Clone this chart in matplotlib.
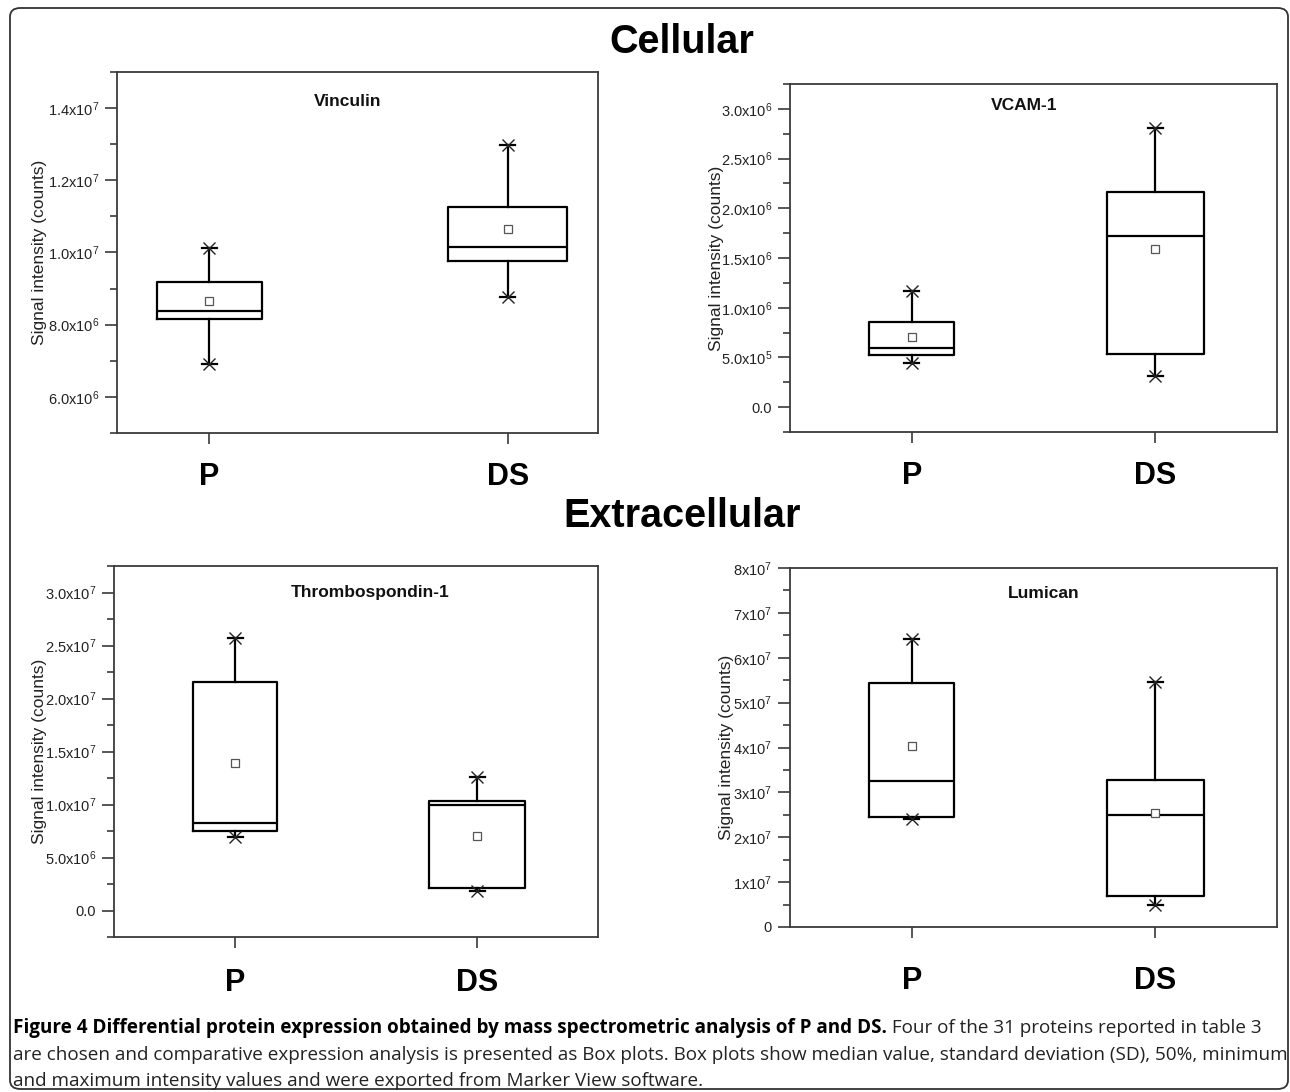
import matplotlib
matplotlib.use("Agg")
import matplotlib.pyplot as plt
from matplotlib.patches import FancyBboxPatch
from matplotlib.ticker import MultipleLocator

plt.rcParams['font.family'] = ['Liberation Sans', 'DejaVu Sans']
plt.rcParams['mathtext.fontset'] = 'custom'
plt.rcParams['mathtext.rm'] = 'Liberation Sans'
plt.rcParams['mathtext.it'] = 'Liberation Sans:italic'
plt.rcParams['mathtext.bf'] = 'Liberation Sans:bold'

# ---------------- data ----------------
groups = ['P', 'DS']

vinc_min = [6.90e6, 8.77e6]
vinc_q1 = [8.16e6, 9.77e6]
vinc_med = [8.39e6, 1.016e7]
vinc_q3 = [9.17e6, 1.127e7]
vinc_max = [1.012e7, 1.298e7]
vinc_mean = [8.65e6, 1.064e7]
vinc_ticks = [6.0e6, 8.0e6, 1.0e7, 1.2e7, 1.4e7]
vinc_ticklabels = [r'6.0x10$^{\mathregular{6}}$', r'8.0x10$^{\mathregular{6}}$',
                   r'1.0x10$^{\mathregular{7}}$', r'1.2x10$^{\mathregular{7}}$',
                   r'1.4x10$^{\mathregular{7}}$']

vcam_min = [4.45e5, 3.15e5]
vcam_q1 = [5.26e5, 5.36e5]
vcam_med = [5.96e5, 1.726e6]
vcam_q3 = [8.53e5, 2.164e6]
vcam_max = [1.164e6, 2.809e6]
vcam_mean = [7.09e5, 1.595e6]
vcam_ticks = [0.0, 5.0e5, 1.0e6, 1.5e6, 2.0e6, 2.5e6, 3.0e6]
vcam_ticklabels = ['0.0', r'5.0x10$^{\mathregular{5}}$', r'1.0x10$^{\mathregular{6}}$',
                   r'1.5x10$^{\mathregular{6}}$', r'2.0x10$^{\mathregular{6}}$',
                   r'2.5x10$^{\mathregular{6}}$', r'3.0x10$^{\mathregular{6}}$']

thbs_min = [6.95e6, 1.80e6]
thbs_q1 = [7.48e6, 2.11e6]
thbs_med = [8.21e6, 9.95e6]
thbs_q3 = [2.153e7, 1.036e7]
thbs_max = [2.567e7, 1.263e7]
thbs_mean = [1.39e7, 7.04e6]
thbs_ticks = [0.0, 5.0e6, 1.0e7, 1.5e7, 2.0e7, 2.5e7, 3.0e7]
thbs_ticklabels = ['0.0', r'5.0x10$^{\mathregular{6}}$', r'1.0x10$^{\mathregular{7}}$',
                   r'1.5x10$^{\mathregular{7}}$', r'2.0x10$^{\mathregular{7}}$',
                   r'2.5x10$^{\mathregular{7}}$', r'3.0x10$^{\mathregular{7}}$']

lum_min = [2.40e7, 4.8e6]
lum_q1 = [2.45e7, 6.9e6]
lum_med = [3.26e7, 2.50e7]
lum_q3 = [5.44e7, 3.28e7]
lum_max = [6.41e7, 5.45e7]
lum_mean = [4.03e7, 2.54e7]
lum_ticks = [0, 1e7, 2e7, 3e7, 4e7, 5e7, 6e7, 7e7, 8e7]
lum_ticklabels = ['0'] + [r'%dx10$^{\mathregular{7}}$' % k for k in range(1, 9)]

# ---------------- layout ----------------
W, H = 1290, 1092
fig = plt.figure(figsize=(W / 100, H / 100), dpi=100)

def add_ax(x0, y0, x1, y1):
    return fig.add_axes([x0 / W, 1 - y1 / H, (x1 - x0) / W, (y1 - y0) / H])

panels = [
    dict(box=(117, 72, 598, 433), title='Vinculin', tx=0.48, ty=0.918,
         mn=vinc_min, q1=vinc_q1, md=vinc_med, q3=vinc_q3, mx=vinc_max, mean=vinc_mean,
         ticks=vinc_ticks, labels=vinc_ticklabels, ylim=(5.0e6, 1.5e7), minor=1.0e6,
         xlim=(0.69, 2.303), ylab_x=40, xpad=13),
    dict(box=(790, 84, 1277, 432), title='VCAM-1', tx=0.48, ty=0.937,
         mn=vcam_min, q1=vcam_q1, md=vcam_med, q3=vcam_q3, mx=vcam_max, mean=vcam_mean,
         ticks=vcam_ticks, labels=vcam_ticklabels, ylim=(-2.5e5, 3.25e6), minor=2.5e5,
         xlim=(0.5, 2.5), ylab_x=716, xpad=13),
    dict(box=(114, 566, 598, 937), title='Thrombospondin-1', tx=0.53, ty=0.929,
         mn=thbs_min, q1=thbs_q1, md=thbs_med, q3=thbs_q3, mx=thbs_max, mean=thbs_mean,
         ticks=thbs_ticks, labels=thbs_ticklabels, ylim=(-2.5e6, 3.25e7), minor=2.5e6,
         xlim=(0.5, 2.5), ylab_x=40, xpad=14.5),
    dict(box=(790, 568, 1277, 927), title='Lumican', tx=0.52, ty=0.93,
         mn=lum_min, q1=lum_q1, md=lum_med, q3=lum_q3, mx=lum_max, mean=lum_mean,
         ticks=lum_ticks, labels=lum_ticklabels, ylim=(0, 8e7), minor=5e6,
         xlim=(0.5, 2.5), ylab_x=726, xpad=20),
]

positions = [1, 2]
box_widths = [0.35, 0.40]
spine_col = '#3a3a3a'

for p in panels:
    x0, y0, x1, y1 = p['box']
    ax = add_ax(x0, y0, x1, y1)
    stats = []
    for i, g in enumerate(groups):
        stats.append(dict(label=g, med=p['md'][i], q1=p['q1'][i], q3=p['q3'][i],
                          whislo=p['mn'][i], whishi=p['mx'][i], mean=p['mean'][i],
                          fliers=[]))
    xr = p['xlim'][1] - p['xlim'][0]
    capw = 15 / (x1 - x0) * xr
    ax.bxp(stats, positions=positions, widths=box_widths, showmeans=True,
           showfliers=False, capwidths=[capw, capw], patch_artist=False,
           boxprops=dict(color='black', linewidth=1.6),
           medianprops=dict(color='black', linewidth=1.6),
           whiskerprops=dict(color='black', linewidth=1.6),
           capprops=dict(color='black', linewidth=1.6),
           meanprops=dict(marker='s', markerfacecolor='white',
                          markeredgecolor='#555555', markersize=5.5,
                          markeredgewidth=0.9))
    ax.plot(positions, p['mx'], ls='none', marker='x', ms=8, mew=1.0, color='#222222')
    ax.plot(positions, p['mn'], ls='none', marker='x', ms=8, mew=1.0, color='#222222')

    ax.set_xlim(*p['xlim'])
    ax.set_ylim(*p['ylim'])
    ax.set_yticks(p['ticks'])
    ax.set_yticklabels(p['labels'], fontsize=10.5)
    ax.yaxis.set_minor_locator(MultipleLocator(p['minor']))
    ax.set_xticks(positions)
    ax.set_xticklabels(groups, fontsize=22, fontweight='bold')
    ax.tick_params(axis='x', direction='out', length=8, width=1.2, pad=p['xpad'],
                   colors=spine_col, labelcolor='black')
    ax.tick_params(axis='y', which='major', direction='out', length=9, width=1.2,
                   colors=spine_col, labelcolor='#222222', pad=4)
    ax.tick_params(axis='y', which='minor', direction='out', length=5, width=1.2,
                   colors=spine_col)
    for s in ax.spines.values():
        s.set_color(spine_col)
        s.set_linewidth(1.3)
    ax.text(p['tx'], p['ty'], p['title'], transform=ax.transAxes, ha='center',
            va='center', fontsize=12.5, fontweight='bold', color='#111111')
    yc = (y0 + y1) / 2
    fig.text(p['ylab_x'] / W, 1 - yc / H, 'Signal intensity (counts)', rotation=90,
             ha='center', va='center', fontsize=12.5, color='#222222')

# section headings
fig.text(682 / W, 1 - 42 / H, 'Cellular', ha='center', va='center',
         fontsize=28.5, fontweight='bold')
fig.text(682 / W, 1 - 516 / H, 'Extracellular', ha='center', va='center',
         fontsize=28.5, fontweight='bold')

# frame
frame = FancyBboxPatch((10 / W, 1 - 1089 / H), 1278 / W, 1081 / H,
                       boxstyle='round,pad=0,rounding_size=0.008',
                       transform=fig.transFigure, fill=False,
                       edgecolor='#333333', linewidth=1.3)
fig.add_artist(frame)

# caption
cap_bold = 'Figure 4 Differential protein expression obtained by mass spectrometric analysis of P and DS.'
cap_rest1 = ' Four of the 31 proteins reported in table 3'
cap_line2 = ('are chosen and comparative expression analysis is presented as Box plots. '
             'Box plots show median value, standard deviation (SD), 50%, minimum')
cap_line3 = 'and maximum intensity values and were exported from Marker View software.'

cap_font = ['Open Sans', 'DejaVu Sans']
renderer = fig.canvas.get_renderer()
probe = fig.text(0, 0, cap_line2, fontsize=12, family=cap_font)
wpx = probe.get_window_extent(renderer).width
probe.remove()
cfs = 12 * 1268 / wpx

xl = 13 / W
t_b = fig.text(xl, 1 - 1028 / H, cap_bold, fontsize=cfs, family=cap_font,
               fontweight='bold', ha='left', va='center', color='black')
bw = t_b.get_window_extent(renderer).width
fig.text(xl + bw / W, 1 - 1028 / H, cap_rest1, fontsize=cfs, family=cap_font,
         ha='left', va='center', color='#222222')
fig.text(xl, 1 - 1055 / H, cap_line2, fontsize=cfs, family=cap_font,
         ha='left', va='center', color='#222222')
fig.text(xl, 1 - 1081 / H, cap_line3, fontsize=cfs, family=cap_font,
         ha='left', va='center', color='#222222')

fig.savefig('out.png', dpi=100)
